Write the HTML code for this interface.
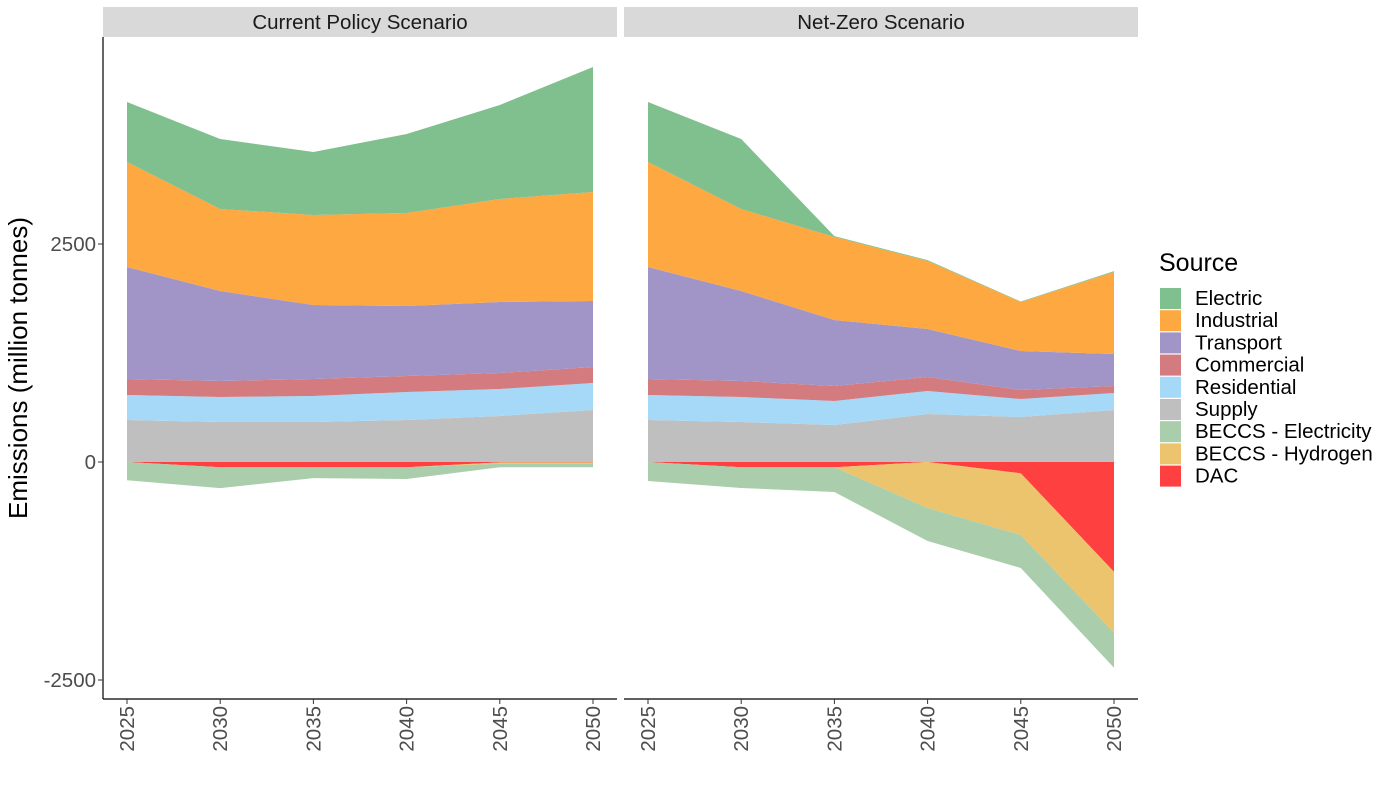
<!DOCTYPE html>
<html><head><meta charset="utf-8"><style>
body{margin:0;background:#fff;font-family:"Liberation Sans",sans-serif;}
</style></head><body>
<svg id="chart" width="1387" height="786" xmlns="http://www.w3.org/2000/svg" font-family="Liberation Sans, sans-serif"></svg>
<script>
const years=[2025,2030,2035,2040,2045,2050];
const seriesNames=["Electric","Industrial","Transport","Commercial","Residential","Supply","BECCS - Electricity","BECCS - Hydrogen","DAC"];
const colors=["#80bf8e","#fea841","#a195c8","#d47b80","#a6d9f7","#bfbfbf","#aacdab","#ecc46d","#ff4040"];
// Current Policy
const cpSupply=[482,459,459,482,528,596];
const cpResidential=[286,286,298,321,309,310];
const cpCommercial=[184,184,195,183,184,183];
const cpTransport=[1284,1032,848,803,814,757];
const cpIndustrial=[1204,940,1033,1067,1181,1250];
const cpElectric=[688,803,722,905,1078,1434];
const cpDAC=[0,-60,-60,-60,-5,-5];
const cpBeccsH=[0,0,0,0,-15,-15];
const cpBeccsE=[-210,-240,-125,-135,-40,-40];
// Net-Zero
const nzSupply=[482,459,424,550,516,596];
const nzResidential=[286,286,276,264,206,195];
const nzCommercial=[184,184,172,161,104,81];
const nzTransport=[1284,1032,756,550,447,367];
const nzIndustrial=[1204,940,952,780,562,940];
const nzElectric=[688,803,10,10,5,10];
const nzDAC=[0,-60,-60,0,-130,-1260];
const nzBeccsH=[0,0,0,-528,-707,-700];
const nzBeccsE=[-218,-238,-284,-378,-379,-400];
const yTicks=[-2500,0,2500];

const svg=document.getElementById('chart');
const NS="http://www.w3.org/2000/svg";
function mk(tag,attrs,parent){const e=document.createElementNS(NS,tag);for(const k in attrs)e.setAttribute(k,attrs[k]);(parent||svg).appendChild(e);return e;}
const yS=v=>462-v*0.0872;
const panels=[
 {title:"Current Policy Scenario",x0:103,x1:617,pos:[cpSupply,cpResidential,cpCommercial,cpTransport,cpIndustrial,cpElectric],neg:[cpDAC,cpBeccsH,cpBeccsE],name:"current-policy"},
 {title:"Net-Zero Scenario",x0:624,x1:1138,pos:[nzSupply,nzResidential,nzCommercial,nzTransport,nzIndustrial,nzElectric],neg:[nzDAC,nzBeccsH,nzBeccsE],name:"net-zero"}
];
const posColorIdx=[5,4,3,2,1,0], negColorIdx=[8,7,6];
panels.forEach(p=>{
 const xS=y=>p.x0+24+(y-2025)/25*466;
 const strip=mk('rect',{x:p.x0,y:7,width:p.x1-p.x0,height:30,fill:'#d9d9d9'});
 
 
 const st=mk('text',{x:(p.x0+p.x1)/2,y:29,'text-anchor':'middle','font-size':20.5,fill:'#1a1a1a'});
 st.textContent=p.title;
 
 
 function stack(list,idx){
  let base=years.map(()=>0);
  list.forEach((arr,i)=>{
   const top=base.map((b,j)=>b+arr[j]);
   let d='M'+years.map((y,j)=>xS(y)+','+yS(top[j])).join('L');
   d+='L'+years.slice().reverse().map((y,jj)=>{const j=years.length-1-jj;return xS(y)+','+yS(base[j]);}).join('L')+'Z';
   const path=mk('path',{d:d,fill:colors[idx[i]]});
   
   
   base=top;
  });
 }
 stack(p.pos,posColorIdx);
 stack(p.neg,negColorIdx);
 const xa=mk('line',{x1:p.x0,x2:p.x1,y1:699,y2:699,stroke:'#000','stroke-width':1.2});
 
 
 years.forEach(y=>{
  mk('line',{x1:xS(y),x2:xS(y),y1:699,y2:704,stroke:'#333'});
  const t=mk('text',{transform:`translate(${xS(y)+7},706) rotate(-90)`,'text-anchor':'end','font-size':20.5,fill:'#4d4d4d'});
  t.textContent=y;
  
  
 });
});
const ya=mk('line',{x1:103,x2:103,y1:37,y2:699,stroke:'#000','stroke-width':1.2});


yTicks.forEach(v=>{
 mk('line',{x1:98,x2:103,y1:yS(v),y2:yS(v),stroke:'#333'});
 const t=mk('text',{x:96,y:yS(v)+7,'text-anchor':'end','font-size':20.5,fill:'#4d4d4d'});
 t.textContent=v;
 
 
});
const yt=mk('text',{transform:'translate(27,368) rotate(-90)','text-anchor':'middle','font-size':26,fill:'#000'});
yt.textContent='Emissions (million tonnes)';


const lt=mk('text',{x:1159,y:271,'font-size':25,fill:'#000'});
lt.textContent='Source';


seriesNames.forEach((n,i)=>{
 const y=288+i*22.2;
 const r=mk('rect',{x:1160,y:y,width:21,height:21,fill:colors[i]});
 
 
 const t=mk('text',{x:1195,y:y+17,'font-size':20.5,fill:'#000'});
 t.textContent=n;
 
 
});
</script>
</body></html>
